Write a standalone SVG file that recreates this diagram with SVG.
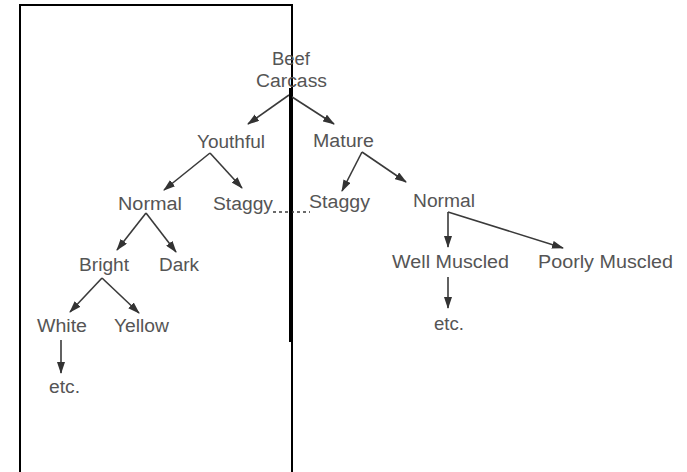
<svg xmlns="http://www.w3.org/2000/svg" width="687" height="472" viewBox="0 0 687 472">
<style>
text{font-family:"Liberation Sans",Arial,sans-serif;font-size:18px;fill:#555}
.c line{stroke:#3a3a3a;stroke-width:1.6}
.d{stroke:#555;stroke-width:1.4;stroke-dasharray:3 3}
</style>
<defs>
<marker id="ah" markerUnits="userSpaceOnUse" markerWidth="12" markerHeight="8" refX="11" refY="4" orient="auto">
<path d="M0,0 L12,4 L0,8 z" fill="#333"/>
</marker>
</defs>
<rect x="0" y="0" width="687" height="472" fill="#fff"/>
<rect x="20" y="5" width="272" height="500" fill="none" stroke="#000" stroke-width="2"/>
<g id="n-beef"><text x="272" y="65" textLength="38" lengthAdjust="spacingAndGlyphs">Beef</text><text x="256" y="87" textLength="71" lengthAdjust="spacingAndGlyphs">Carcass</text></g>
<g id="n-youthful"><text x="197" y="148" textLength="68" lengthAdjust="spacingAndGlyphs">Youthful</text></g>
<g id="n-mature"><text x="313" y="147" textLength="61" lengthAdjust="spacingAndGlyphs">Mature</text></g>
<g id="n-normal-l"><text x="118" y="210" textLength="64" lengthAdjust="spacingAndGlyphs">Normal</text></g>
<g id="n-staggy-l"><text x="213" y="210" textLength="60" lengthAdjust="spacingAndGlyphs">Staggy</text></g>
<g id="n-staggy-r"><text x="309" y="208" textLength="61" lengthAdjust="spacingAndGlyphs">Staggy</text></g>
<g id="n-normal-r"><text x="413" y="207" textLength="62" lengthAdjust="spacingAndGlyphs">Normal</text></g>
<g id="n-bright"><text x="79" y="271" textLength="50" lengthAdjust="spacingAndGlyphs">Bright</text></g>
<g id="n-dark"><text x="159" y="271" textLength="40" lengthAdjust="spacingAndGlyphs">Dark</text></g>
<g id="n-white"><text x="37" y="332" textLength="50" lengthAdjust="spacingAndGlyphs">White</text></g>
<g id="n-yellow"><text x="114" y="332" textLength="55" lengthAdjust="spacingAndGlyphs">Yellow</text></g>
<g id="n-etc-l"><text x="49" y="393" textLength="31" lengthAdjust="spacingAndGlyphs">etc.</text></g>
<g id="n-well"><text x="392" y="268" textLength="117" lengthAdjust="spacingAndGlyphs">Well Muscled</text></g>
<g id="n-poorly"><text x="538" y="268" textLength="135" lengthAdjust="spacingAndGlyphs">Poorly Muscled</text></g>
<g id="n-etc-r"><text x="434" y="330" textLength="30" lengthAdjust="spacingAndGlyphs">etc.</text></g>
<g id="connectors" class="c">
<line x1="289" y1="95" x2="248" y2="124" marker-end="url(#ah)"/>
<line x1="289" y1="95" x2="334" y2="124" marker-end="url(#ah)"/>
<line x1="210" y1="153" x2="164" y2="190" marker-end="url(#ah)"/>
<line x1="210" y1="153" x2="242" y2="188" marker-end="url(#ah)"/>
<line x1="146" y1="213" x2="117" y2="250" marker-end="url(#ah)"/>
<line x1="146" y1="213" x2="176" y2="252" marker-end="url(#ah)"/>
<line x1="102" y1="278" x2="70" y2="312" marker-end="url(#ah)"/>
<line x1="102" y1="278" x2="139" y2="313" marker-end="url(#ah)"/>
<line x1="61" y1="340" x2="61" y2="373" marker-end="url(#ah)"/>
<line x1="362" y1="152" x2="342" y2="191" marker-end="url(#ah)"/>
<line x1="362" y1="152" x2="406" y2="182" marker-end="url(#ah)"/>
<line x1="448" y1="212" x2="448" y2="247" marker-end="url(#ah)"/>
<line x1="448" y1="212" x2="563" y2="248" marker-end="url(#ah)"/>
<line x1="448" y1="277" x2="448" y2="308" marker-end="url(#ah)"/>
<line class="d" x1="273" y1="212" x2="310" y2="212"/>
</g>
<line x1="290.5" y1="88" x2="290.5" y2="342" stroke="#000" stroke-width="3"/>
</svg>
